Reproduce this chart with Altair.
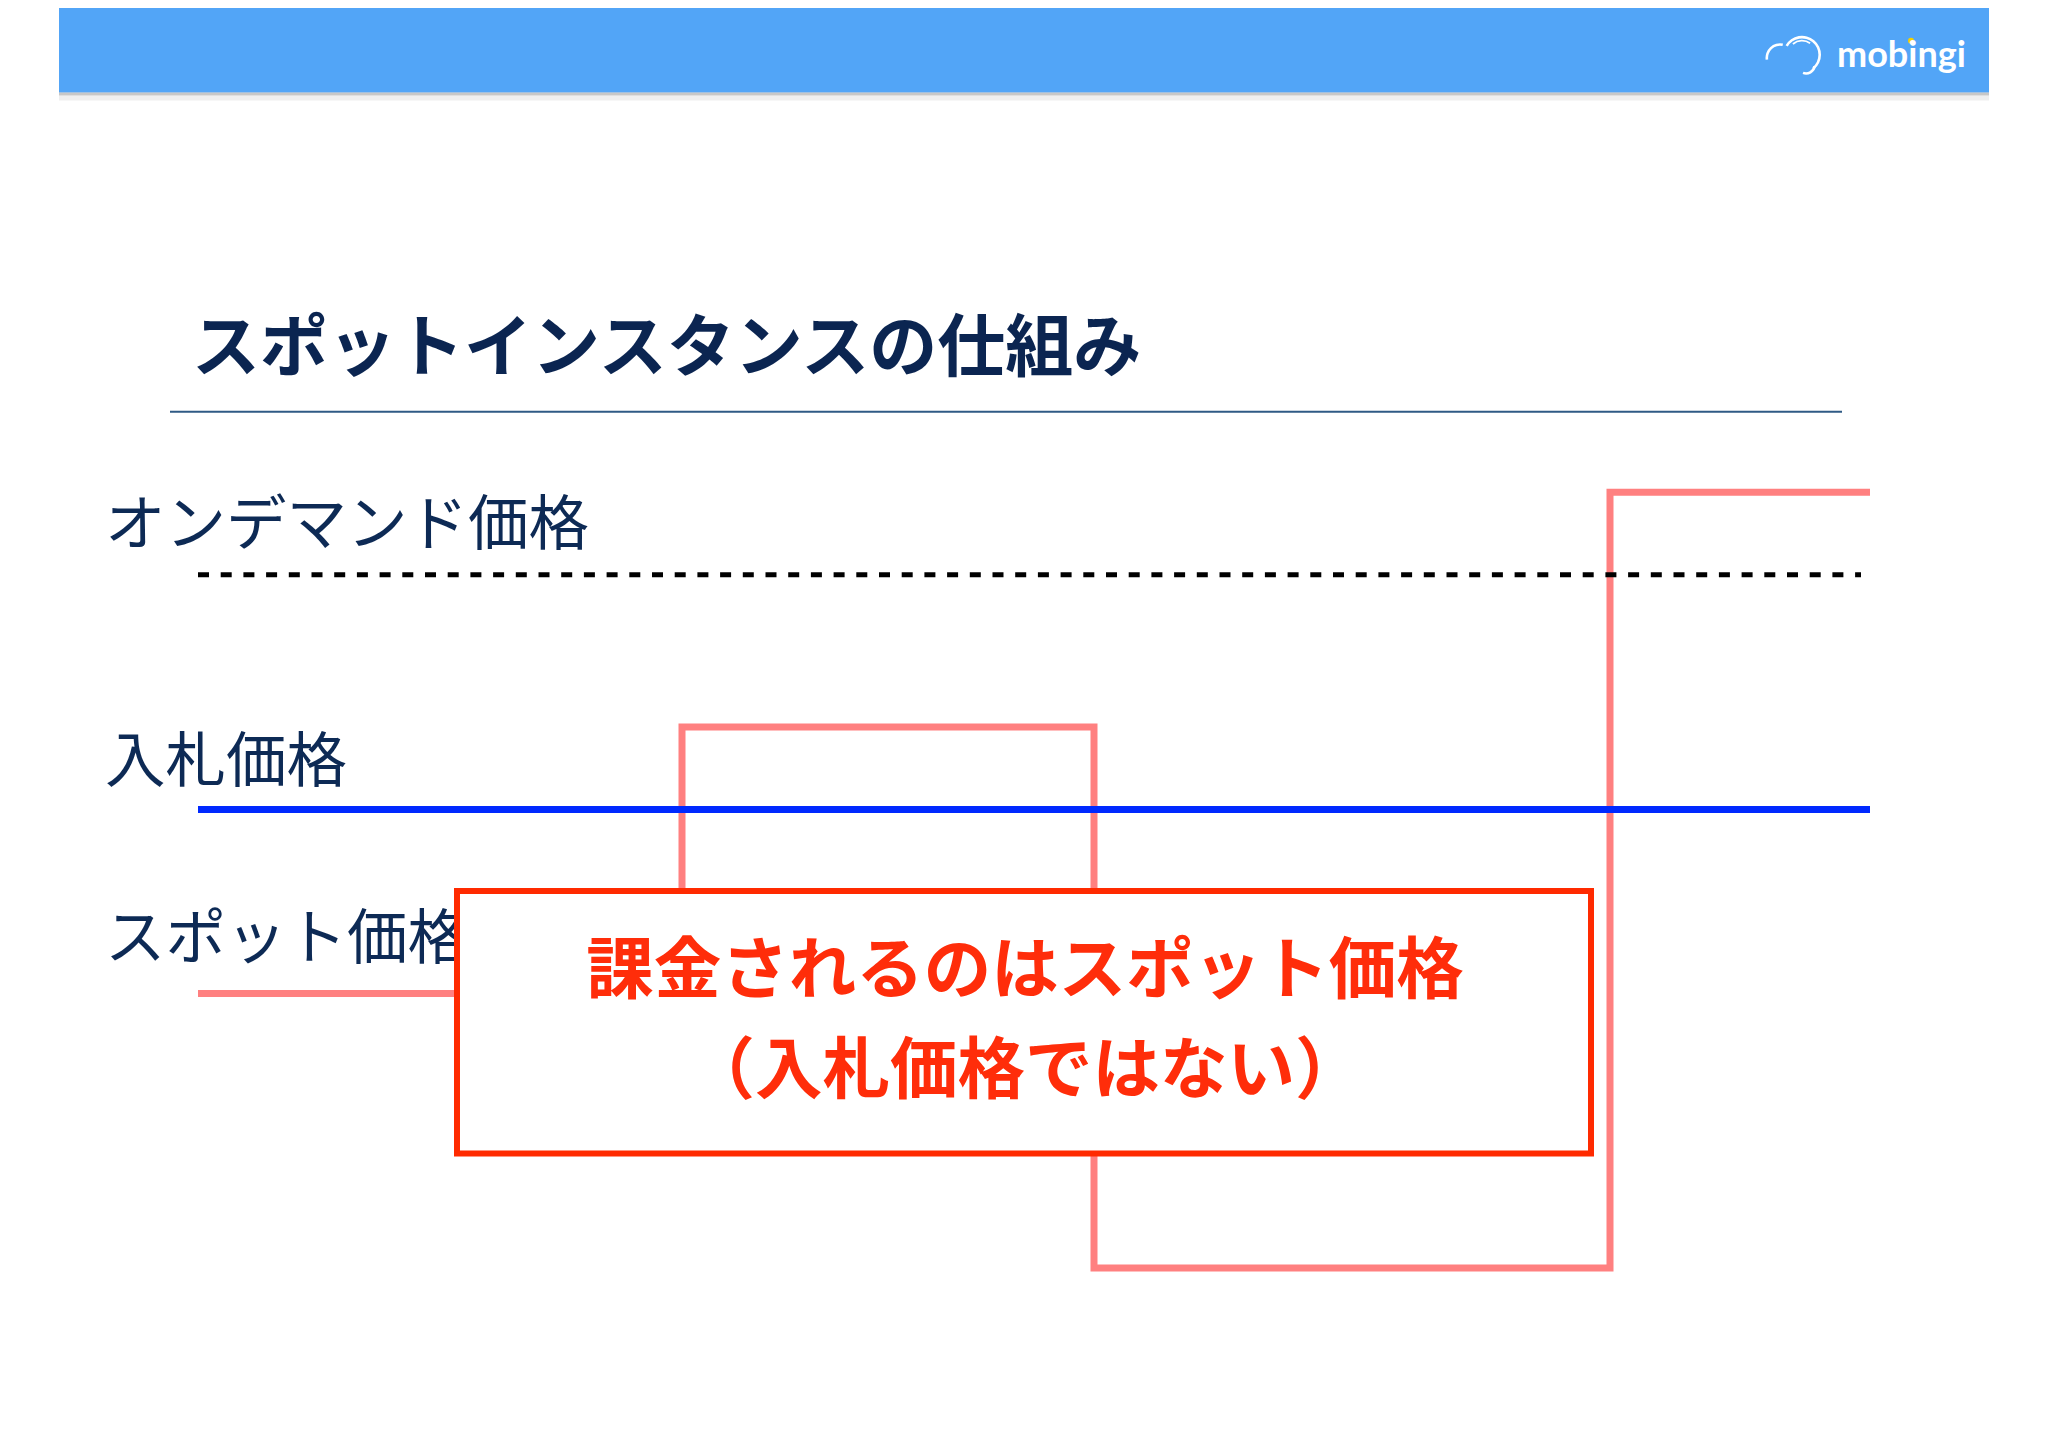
import altair as alt
import pandas as pd

# ---- data (page-pixel coordinate system of the slide) ----
header_x = [59, 1989]
header_y = [0, 85]
title_text = ["スポットインスタンスの仕組み"]
title_pos = [192, 345]
underline_x = [170, 1842]
underline_y = [406]

price_labels = ["オンデマンド価格", "入札価格", "スポット価格"]
label_x = [105, 105, 105]
label_y = [522, 760, 938]

ondemand_x = [198, 1861]
ondemand_y = [570]
bid_x = [198, 1870]
bid_y = [806]

spot_x = [198, 682, 682, 1094, 1094, 1610, 1610, 1870]
spot_y = [991, 991, 723, 723, 1267, 1267, 487, 487]

box_x = [457, 1591]
box_y = [888, 1152]
box_lines = ["課金されるのはスポット価格", "（入札価格ではない）"]
box_line_x = [1025, 1025]
box_line_y = [970, 1071]

logo_text = ["mobingi"]
logo_pos = [1837, 48]
logo_dot = [1911, 33]
cloud_cx = [1780, 1802, 1802, 1806]
cloud_cy = [50, 47, 47, 57]
cloud_r = [14.5, 19, 15, 10]
cloud_t0 = [262, 300, 320, 100]
cloud_t1 = [372, 500, 395, 200]

W, H = 2030, 1420
XS = alt.Scale(domain=[8, 8 + W], nice=False, zero=False)
YS = alt.Scale(domain=[8, 8 + H], nice=False, zero=False, reverse=True)


def X(f):
    return alt.X(f, type="quantitative", scale=XS, axis=None)


def Y(f):
    return alt.Y(f, type="quantitative", scale=YS, axis=None)


def X2(f):
    return alt.X2(f)


def Y2(f):
    return alt.Y2(f)


def band(x0, x1, y0, y1):
    return pd.DataFrame({"x": [x0], "x2": [x1], "y": [y0], "y2": [y1]})


header = alt.Chart(band(header_x[0], header_x[1], header_y[0], header_y[1])).mark_rect(
    color="#52A5F7").encode(x=X("x"), x2=X2("x2"), y=Y("y"), y2=Y2("y2"))
shadow = alt.Chart(band(header_x[0], header_x[1], header_y[1], header_y[1] + 3)).mark_rect(
    color="#8f8f8f", opacity=0.5).encode(x=X("x"), x2=X2("x2"), y=Y("y"), y2=Y2("y2"))
shadow2 = alt.Chart(band(header_x[0], header_x[1], header_y[1] + 3, header_y[1] + 8)).mark_rect(
    color="#d0d0d0", opacity=0.35).encode(x=X("x"), x2=X2("x2"), y=Y("y"), y2=Y2("y2"))

logo = alt.Chart(pd.DataFrame({"t": logo_text, "x": [logo_pos[0]], "y": [logo_pos[1]]})).mark_text(
    font="Lato", fontWeight="bold", fontSize=36, color="white", align="left", baseline="middle").encode(
    x=X("x"), y=Y("y"), text="t:N")
dot = alt.Chart(pd.DataFrame({"x": [logo_dot[0]], "y": [logo_dot[1]]})).mark_circle(
    color="#F5D000", size=36, opacity=1).encode(x=X("x"), y=Y("y"))
cloud_df = pd.DataFrame({"x": cloud_cx, "y": cloud_cy, "r": cloud_r, "t0": cloud_t0, "t1": cloud_t1})
cloud_layers = []
for i in range(len(cloud_cx)):
    cloud_layers.append(
        alt.Chart(cloud_df.iloc[[i]]).mark_arc(
            color="white", radius=cloud_r[i], radius2=cloud_r[i] - (2.6 if i != 2 else 1.8),
            theta=cloud_t0[i] * 3.14159265 / 180, theta2=cloud_t1[i] * 3.14159265 / 180).encode(
            x=X("x"), y=Y("y"))
    )

title = alt.Chart(pd.DataFrame({"t": title_text, "x": [title_pos[0]], "y": [title_pos[1]]})).mark_text(
    font="Noto Sans CJK JP", fontWeight="bold", fontSize=68, color="#0B2551", align="left", baseline="middle").encode(
    x=X("x"), y=Y("y"), text="t:N")
underline = alt.Chart(pd.DataFrame({"x": [underline_x[0]], "x2": [underline_x[1]], "y": underline_y})).mark_rule(
    color="#2F5A85", strokeWidth=2).encode(x=X("x"), x2=X2("x2"), y=Y("y"))

labels = alt.Chart(pd.DataFrame({"t": price_labels, "x": label_x, "y": label_y})).mark_text(
    font="Noto Sans CJK JP", fontSize=60.5, color="#0D2A55", align="left", baseline="middle").encode(
    x=X("x"), y=Y("y"), text="t:N")

spot = alt.Chart(pd.DataFrame({"x": spot_x, "y": spot_y, "o": list(range(len(spot_x)))})).mark_line(
    color="#FF8080", strokeWidth=7, strokeJoin="miter", strokeCap="butt").encode(
    x=X("x"), y=Y("y"), order="o:Q")
bid = alt.Chart(pd.DataFrame({"x": [bid_x[0]], "x2": [bid_x[1]], "y": bid_y})).mark_rule(
    color="#0029FF", strokeWidth=7).encode(x=X("x"), x2=X2("x2"), y=Y("y"))
ondemand = alt.Chart(pd.DataFrame({"x": [ondemand_x[0]], "x2": [ondemand_x[1]], "y": ondemand_y})).mark_rule(
    color="black", strokeWidth=5, strokeDash=[11, 11.7]).encode(x=X("x"), x2=X2("x2"), y=Y("y"))

box = alt.Chart(band(box_x[0], box_x[1], box_y[0], box_y[1])).mark_rect(
    fill="white", stroke="#FF2A00", strokeWidth=6).encode(x=X("x"), x2=X2("x2"), y=Y("y"), y2=Y2("y2"))
box_text = alt.Chart(pd.DataFrame({"t": box_lines, "x": box_line_x, "y": box_line_y})).mark_text(
    font="Noto Sans CJK JP", fontWeight="bold", fontSize=67.5, color="#FF2D0A", align="center", baseline="middle").encode(
    x=X("x"), y=Y("y"), text="t:N")

chart = alt.layer(
    header, shadow, shadow2, *cloud_layers, dot, logo,
    title, underline, labels, spot, bid, ondemand, box, box_text
).properties(
    width=W, height=H, padding=0, background="white",
    autosize=alt.AutoSizeParams(type="fit", contains="padding")
).configure_view(stroke=None)

chart.save("out.html", embed_options={"renderer": "svg", "actions": False})
